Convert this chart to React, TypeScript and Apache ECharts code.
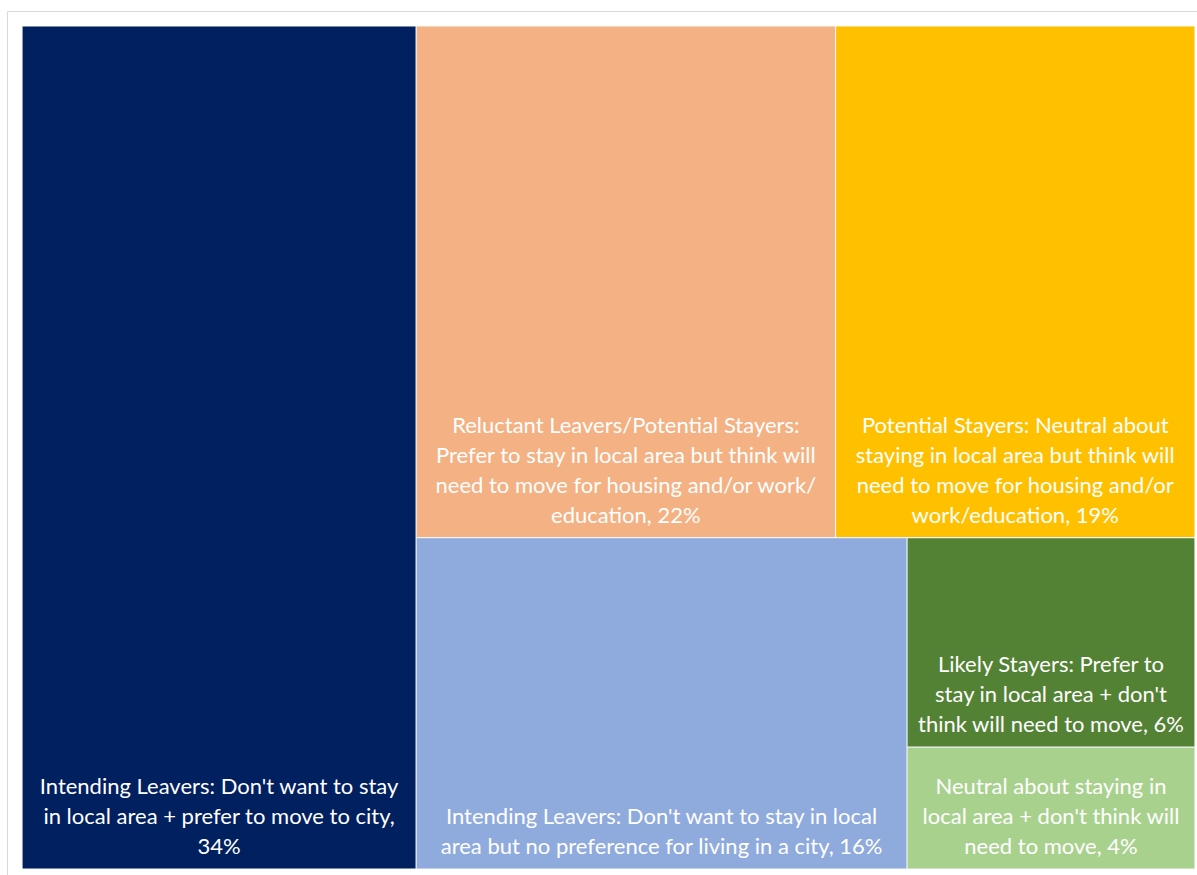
import React, { useEffect, useRef } from "react";
import * as echarts from "echarts";

// Segment names (one per tile)
const segmentNames = [
  "Intending Leavers: Don't want to stay in local area + prefer to move to city",
  "Reluctant Leavers/Potential Stayers: Prefer to stay in local area but think will need to move for housing and/or work/education",
  "Potential Stayers: Neutral about staying in local area but think will need to move for housing and/or work/education",
  "Intending Leavers: Don't want to stay in local area but no preference for living in a city",
  "Likely Stayers: Prefer to stay in local area + don't think will need to move",
  "Neutral about staying in local area + don't think will need to move",
];

// Label text as wrapped in the reference; {pct} is filled from the value
const segmentLabels = [
  "Intending Leavers: Don't want to stay\nin local area + prefer to move to city,\n{pct}",
  "Reluctant Leavers/Potential Stayers:\nPrefer to stay in local area but think will\nneed to move for housing and/or work/\neducation, {pct}",
  "Potential Stayers: Neutral about\nstaying in local area but think will\nneed to move for housing and/or\nwork/education, {pct}",
  "Intending Leavers: Don't want to stay in local\narea but no preference for living in a city, {pct}",
  "Likely Stayers: Prefer to\nstay in local area + don't\nthink will need to move, {pct}",
  "Neutral about staying in\nlocal area + don't think will\nneed to move, {pct}",
];

// Share of respondents (%)
const shares = [33.6, 21.7, 18.6, 16.45, 6.1, 3.55];

const segmentColors = ["#002060", "#F4B183", "#FFC000", "#8FAADC", "#548235", "#A9D18E"];

function leaf(i: number) {
  return {
    name: segmentNames[i],
    value: shares[i],
    labelTemplate: segmentLabels[i],
    itemStyle: { color: segmentColors[i], borderWidth: 0.6, borderColor: "#f2f2f2" },
  };
}

function group(name: string, children: any[]) {
  return {
    name,
    children,
    label: { show: false },
    upperLabel: { show: false },
    itemStyle: { borderWidth: 0, gapWidth: 0, borderColor: "#ffffff" },
  };
}

export default function App() {
  const ref = useRef<HTMLDivElement>(null);
  useEffect(() => {
    if (!ref.current) return;
    const chart = echarts.init(ref.current, undefined, { renderer: "svg" });
    const treeData = [
      leaf(0),
      group("rest", [
        group("upper", [leaf(1), leaf(2)]),
        group("lower", [leaf(3), group("small", [leaf(4), leaf(5)])]),
      ]),
    ];
    chart.setOption({
      animation: false,
      backgroundColor: "#ffffff",
      graphic: [
        {
          type: "rect",
          shape: { x: 7.5, y: 11.5, width: 1220, height: 900 },
          style: { fill: "none", stroke: "#d9d9d9", lineWidth: 1 },
          silent: true,
        },
      ],
      series: [
        {
          type: "treemap",
          left: 22,
          top: 26,
          width: 1173,
          height: 843,
          roam: false,
          nodeClick: false,
          sort: false,
          squareRatio: 1,
          breadcrumb: { show: false },
          upperLabel: { show: false },
          itemStyle: { borderWidth: 0, gapWidth: 0, borderColor: "#ffffff" },
          label: {
            show: true,
            position: "insideBottom",
            distance: 8,
            padding: 0,
            color: "#ffffff",
            fontFamily: "Lato",
            fontSize: 22,
            lineHeight: 30,
            align: "center",
            overflow: "none",
            formatter: (p: any) =>
              (p.data && p.data.labelTemplate ? p.data.labelTemplate : "").replace(
                "{pct}",
                Math.round(p.value) + "%"
              ),
          },
          data: treeData,
        },
      ],
    });
    return () => chart.dispose();
  }, []);
  return (
    <div
      ref={ref}
      style={{ position: "absolute", left: 0, top: 0, width: 1197, height: 875 }}
    />
  );
}
